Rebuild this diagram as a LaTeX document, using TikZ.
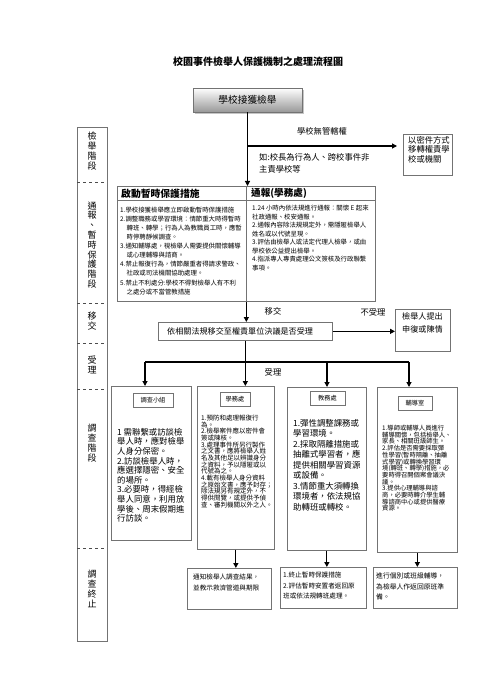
\documentclass[tikz,border=0pt]{standalone}
\usepackage{fontspec}
\setmainfont{Noto Sans CJK TC}
\usetikzlibrary{arrows.meta,shadows}
\tikzset{
  box/.style={draw=black!55, line width=0.7pt, rectangle, inner sep=0pt},
  txt/.style={inner sep=0pt, align=left, anchor=north west},
  lab/.style={inner sep=0pt, font=\fontsize{8.3}{12}\selectfont},
  vlab/.style={inner sep=0pt, align=center, font=\fontsize{9}{9.8}\selectfont},
  arr/.style={draw=black, line width=1.1pt, -{Triangle[length=5pt,width=5pt]}},
  ln/.style={draw=black, line width=1.1pt},
  sep/.style={draw=black!70, line width=0.7pt, dashed},
  tag/.style={box, font=\fontsize{6.2}{7}\selectfont, minimum height=14pt},
}
\begin{document}
\begin{tikzpicture}[x=1pt,y=-1pt]
\useasboundingbox[fill=white] (0,0) rectangle (495,700);

% title
\node[inner sep=0pt, font=\fontsize{10}{12}\selectfont\bfseries] (title) at (258,62) {校園事件檢舉人保護機制之處理流程圖};

% start box
\node[box, top color=white, bottom color=black!40, drop shadow={shadow xshift=2pt, shadow yshift=-2pt, opacity=0.45},
      minimum width=109pt, minimum height=24pt, font=\fontsize{9.7}{11}\selectfont] (S) at (247.5,100) {學校接獲檢舉};

% left stage column
\node[box, anchor=north west, minimum width=30pt, minimum height=514pt] (col) at (77,127) {};
\draw[sep] (77,182) -- (107,182);
\draw[sep] (77,303) -- (107,303);
\draw[sep] (77,343) -- (107,343);
\draw[sep] (77,389) -- (107,389);
\draw[sep] (77,548) -- (107,548);
\node[vlab] (v1) at (92,151) {檢\\舉\\階\\段};
\node[vlab] (v2) at (92,245) {通\\報\\、\\暫\\時\\保\\護\\階\\段};
\node[vlab] (v3) at (92,321) {移\\交};
\node[vlab] (v4) at (92,365) {受\\理};
\node[vlab] (v5) at (92,443) {調\\查\\階\\段};
\node[vlab] (v6) at (92,589) {調\\查\\終\\止};

% transfer-out box
\node[box, anchor=north west, minimum width=49pt, minimum height=41pt] (M) at (403,134) {};
\node[txt, font=\fontsize{8.3}{9.6}\selectfont] (Mt) at (408,136) {以密件方式\\移轉權責學\\校或機關};

% table
\node[box, anchor=north west, minimum width=258pt, minimum height=115pt] (T) at (117,186) {};
\draw[box] ([yshift=-14pt]T.north west) -- ([yshift=-14pt]T.north east);
\draw[box] (T.north) -- (T.south);
\node[inner sep=0pt, anchor=west, font=\fontsize{9.8}{11}\selectfont\bfseries] (T1h) at (121,193.5) {啟動暫時保護措施};
\node[inner sep=0pt, anchor=west, font=\fontsize{9.6}{11}\selectfont\bfseries] (T2h) at (251,193.5) {通報(學務處)};
\node[txt, font=\fontsize{6.4}{9.1}\selectfont] (T1) at (120,206.5) {1.學校接獲檢舉應立即啟動暫時保護措施\\
2.調整職務或學習環境：情節重大時得暫時\\
\hspace*{1em}轉班、轉學；行為人為教職員工時，應暫\\
\hspace*{1em}時停聘靜候調查。\\
3.通知輔導處，視檢舉人需要提供關懷輔導\\
\hspace*{1em}或心理輔導與諮商。\\
4.禁止報復行為，情節嚴重者得請求警政、\\
\hspace*{1em}社政或司法機關協助處理。\\
5.禁止不利處分:學校不得對檢舉人有不利\\
\hspace*{1em}之處分或不當管教措施};
\node[txt, font=\fontsize{6.4}{8.5}\selectfont] (T2) at (252,205) {1.24 小時內依法規進行通報：關懷 E 起來\\
社政通報、校安通報。\\
2.通報內容除法規規定外，需隱匿檢舉人\\
姓名或以代號呈現。\\
3.評估由檢舉人或法定代理人檢舉，或由\\
學校依公益提出檢舉。\\
4.指派專人專責處理公文簽核及行政聯繫\\
事項。};

% arrows top
\draw[arr] (S.south) -- (S.south |- T.north);
\coordinate (br) at (247,146);
\draw[arr, shorten >=6pt] (br) -- (br -| M.west);
\node[lab] (l1) at (322,131) {學校無管轄權};
\node[lab, align=left, anchor=north west] (l2) at (259,153.5) {如:校長為行為人、跨校事件非\\主責學校等};

% decision box
\node[box, anchor=north west, minimum width=174pt, minimum height=18pt] (R) at (158,322) {};
\node[inner sep=0pt, anchor=west, font=\fontsize{8.1}{10}\selectfont] (Rt) at (167,331) {依相關法規移交至權責單位決議是否受理};
\draw[arr] (T.south) -- (T.south |- R.north);
\node[lab] (l3) at (273,311) {移交};
\node[lab] (l4) at (373,312) {不受理};

% appeal box
\node[box, anchor=north west, minimum width=55pt, minimum height=42pt] (P) at (395,309) {};
\node[txt, font=\fontsize{8.1}{13}\selectfont] (Pt) at (402,312) {檢舉人提出\\申復或陳情};
\draw[arr] (R.east) -- (R.east -| P.west);

% investigation boxes
\node[box, anchor=north west, minimum width=80pt, minimum height=154pt] (B1) at (111,386) {};
\node[box, anchor=north west, minimum width=77pt, minimum height=163pt] (B2) at (197,386) {};
\node[box, anchor=north west, minimum width=79pt, minimum height=163pt] (B3) at (287,387) {};
\node[box, anchor=north west, minimum width=80pt, minimum height=165pt] (B4) at (377,387) {};

\node[tag, minimum width=40pt] (g1) at (153,400) {調查小組};
\node[tag, minimum width=30pt] (g2) at (235,399.5) {學務處};
\node[tag, minimum width=35pt] (g3) at (327.5,398) {教務處};
\node[tag, minimum width=34pt] (g4) at (415,403) {輔導室};

\node[txt, font=\fontsize{8.4}{9.6}\selectfont] (B1t) at (117,428) {1 需聯繫或訪談檢\\舉人時，應對檢舉\\人身分保密。\\2.訪談檢舉人時，\\應選擇隱密、安全\\的場所。\\3.必要時，得經檢\\舉人同意，利用放\\學後、周末假期進\\行訪談。};
\node[txt, font=\fontsize{6.5}{6.65}\selectfont] (B2t) at (201,415) {1.預防和處理報復行\\為。\\2.檢舉案件應以密件會\\簽或陳核。\\3.處理事件所另行製作\\之文書，應將檢舉人姓\\名及其他足以辨識身分\\之資料，予以隱匿或以\\代號為之。\\4.載有檢舉人身分資料\\之原始文書，應予封存；\\除法規另有規定外，不\\得供閱覽，或提供予偵\\查、審判機關以外之人。};
\node[txt, font=\fontsize{8.4}{10.5}\selectfont] (B3t) at (293,419) {1.彈性調整課務或\\學習環境。\\2.採取隔離措施或\\抽離式學習者，應\\提供相關學習資源\\或設備。\\3.情節重大須轉換\\環境者，依法規協\\助轉班或轉校。};
\node[txt, font=\fontsize{6.3}{6.7}\selectfont] (B4t) at (382,425) {1.導師或輔導人員進行\\輔導關懷，包括檢舉人、\\家長、相關班級師生。\\2.評估是否需要採取彈\\性學習(暫時隔離、抽離\\式學習)或轉換學習環\\境(轉班、轉學)措施，必\\要時得召開個案會議決\\議。\\3.提供心理輔導與諮\\商，必要時轉介學生輔\\導諮商中心或提供醫療\\資源。};

% distribution
\coordinate (h1) at (145,362);
\coordinate (h3) at (327,362);
\coordinate (h4) at (409,362);
\draw[ln] (h1) -- (h4);
\draw[arr] (h1) -- (h1 |- B1.north);
\draw[arr] (R.south) -- (R.south |- B2.north);
\draw[arr] (h3) -- (h3 |- B3.north);
\draw[arr] (h4) -- (h4 |- B4.north);
\node[lab] (l5) at (273,372) {受理};

% end boxes
\node[box, anchor=north west, minimum width=84pt, minimum height=41pt] (E1) at (187,568) {};
\node[box, anchor=north west, minimum width=86pt, minimum height=41pt] (E2) at (280,567) {};
\node[box, anchor=north west, minimum width=84pt, minimum height=41pt] (E3) at (373,567) {};
\node[txt, font=\fontsize{6.6}{11}\selectfont] (E1t) at (193,574) {通知檢舉人調查結果，\\並教示救濟管道與期限};
\node[txt, font=\fontsize{6.6}{10.5}\selectfont] (E2t) at (283,572) {1.終止暫時保護措施\\2.評估暫時安置者返回原\\班或依法規轉班處理。};
\node[txt, font=\fontsize{6.8}{10.5}\selectfont] (E3t) at (376,573) {進行個別或班級輔導，\\為檢舉人作返回原班準\\備。};
\draw[arr] (B2.south) -- (B2.south |- E1.north);
\draw[arr] (B3.south) -- (B3.south |- E2.north);
\draw[arr] (B4.south) -- (B4.south |- E3.north);
\end{tikzpicture}
\end{document}
